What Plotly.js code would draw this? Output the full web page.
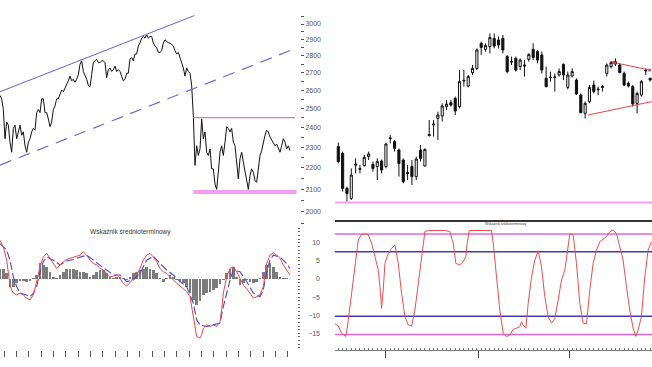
<!DOCTYPE html>
<html><head><meta charset="utf-8">
<script src="https://cdn.plot.ly/plotly-3.0.1.min.js"></script>
<style>html,body{margin:0;padding:0;background:#fff}#c{width:652px;height:367px}</style>
</head><body><div id="c"></div>
<script>
// ---- top-left: index close (log scale) ----
const priceL = [2572,2553,2495,2342,2428,2412,2325,2275,2395,2412,2342,2377,2412,2360,2377,2307,2275,2325,2342,2377,
2395,2386,2478,2495,2478,2553,2553,2478,2478,2445,2404,2428,2495,2514,2553,2553,2582,2602,2592,2611,
2637,2654,2681,2654,2663,2646,2663,2690,2750,2771,2708,2690,2663,2628,2620,2690,2760,2771,2781,2760,
2760,2771,2771,2760,2672,2719,2729,2708,2719,2740,2708,2719,2708,2681,2654,2663,2698,2698,2781,2791,
2771,2812,2812,2861,2880,2910,2920,2910,2930,2910,2920,2920,2880,2861,2851,2822,2822,2832,2880,2900,
2890,2880,2880,2870,2861,2832,2812,2822,2791,2760,2729,2681,2729,2708,2698,2628,2461,2211,2307,2259,
2291,2445,2342,2377,2275,2259,2291,2195,2195,2124,2100,2179,2275,2307,2259,2325,2404,2395,2377,2395,
2325,2307,2211,2148,2243,2275,2227,2179,2148,2100,2164,2195,2179,2140,2132,2195,2259,2283,2325,2360,
2386,2377,2351,2334,2325,2307,2316,2291,2275,2307,2342,2325,2291,2307,2283];
const channelTopDay = [0, 116.6], channelTopVal = [2592, 3055];
const channelLowDay = [0, 178],   channelLowVal = [2213, 2849];
const resistDay = [116, 177], resistVal = [2451, 2451];
const supportDay = [116, 178], supportVal = [2088, 2088];
const priceTicks = [1950,2000,2050,2100,2150,2200,2250,2300,2350,2400,2450,2500,2550,2600,2650,2700,2750,2800,2850,2900,2950,3000,3050];

// ---- bottom-left: medium-term oscillator ----
const oscRedDay = [0,2,4,5,6,7,8,10,12,14,16,18,20,22,24,26,28,30,32,34,36,38,40,42,44,46,48,50,52,54,56,58,60,62,64,66,68,70,72,74,76,78,80,82,84,86,88,90,92,94,96,98,100,102,104,106,108,110,112,114,115,116,117,118,120,121,122,124,126,128,130,132,133,134,136,138,140,142,144,146,148,150,152,154,156,158,160,162,164,166,168,170,172,174];
const oscRedVal = [10.7,8.9,5.2,1.6,-1.7,-3.0,-3.9,-4.4,-3.9,-4.4,-5.3,-5.8,-4.4,-0.7,3.4,6.1,7.1,5.7,4.3,2.9,3.9,4.8,5.4,5.7,6.1,6.3,6.6,7.5,6.6,5.2,4.3,3.9,2.9,2.5,1.6,0.6,0.8,1.1,0.2,-1.2,-1.9,-1.0,0.2,1.1,2.9,5.2,6.6,7.1,6.1,4.8,2.9,2.0,1.6,0.6,-0.3,-1.2,-1.9,-2.6,-3.5,-4.9,-7.6,-11.3,-14.0,-15.9,-16.3,-15.4,-13.6,-12.7,-13.1,-12.7,-13.1,-11.7,-8.5,-3.9,0.6,2.9,3.4,2.0,0.2,-1.7,-2.6,-3.9,-5.3,-4.9,-4.4,-2.1,4.3,6.6,7.2,6.6,5.7,3.9,2.5,1.1];
const oscBlueDay = [0,4,6,8,10,12,16,18,20,22,24,26,28,30,32,36,40,44,48,52,56,60,64,68,72,76,80,84,88,92,96,100,104,108,112,116,118,120,124,128,132,134,136,138,140,144,148,152,156,158,160,162,164,168,172,174];
const oscBlueVal = [9.8,8.0,5.2,0.6,-2.1,-3.9,-4.4,-4.9,-3.9,-2.1,2.0,4.8,6.1,5.7,5.2,3.9,5.0,5.4,6.1,6.6,5.2,3.9,2.5,1.1,1.1,-0.7,-0.3,1.6,5.2,6.3,4.3,2.5,1.1,-0.7,-2.1,-6.7,-11.3,-12.7,-13.1,-12.7,-12.2,-7.6,-3.9,-0.3,2.5,2.0,-0.7,-3.9,-4.9,-3.0,2.0,5.2,6.6,6.1,4.3,2.9];
const histVal = [2.9,2.9,1.6,-2.1,-2.1,-1.2,-0.5,-0.6,-0.7,-0.5,0.2,1.0,4.3,3.9,3.4,2.0,0.6,0.2,1.1,2.0,2.7,2.9,2.9,2.5,2.0,2.0,1.6,0.6,1.1,2.0,2.5,2.5,1.6,0.6,0.2,0.6,0.6,0.2,-0.3,0.6,1.6,2.0,2.5,2.9,3.2,2.9,2.5,1.6,0.2,-0.7,0.2,1.1,0.6,-0.3,-0.7,-1.2,-2.1,-3.9,-5.8,-7.2,-6.2,-4.4,-3.9,-3.5,-3.0,-2.6,-1.4,-0.3,1.6,2.9,3.4,0.6,-1.7,-1.0,-0.3,-0.7,-1.2,-0.7,0.2,2.0,3.9,4.3,3.4,2.0,0.6,0.2,0.2,0.1];
const oscTicks = [-15,-10,-5,0,5,10];

// ---- top-right: daily candles ----
const candleOpen  = [2280,2246,2071,2021,2193,2166,2185,2230,2191,2180,2208,2180,2320,2305,2263,2213,2150,2180,2130,2263,2183,2340,2388,2421,2433,2480,2500,2521,2480,2608,2583,2650,2671,2796,2766,2780,2821,2813,2821,2730,2706,2721,2680,2688,2716,2766,2755,2738,2621,2628,2626,2638,2691,2576,2633,2613,2538,2446,2505,2588,2568,2580,2646,2680,2693,2688,2646,2596,2580,2496,2538,2658,2621];
const candleHigh  = [2300,2255,2080,2171,2221,2188,2238,2255,2205,2221,2216,2300,2338,2313,2271,2221,2188,2213,2230,2288,2271,2413,2413,2455,2496,2513,2513,2530,2663,2663,2638,2688,2771,2805,2796,2846,2846,2830,2838,2738,2730,2730,2721,2713,2746,2796,2763,2755,2680,2655,2646,2671,2696,2655,2671,2621,2546,2505,2588,2610,2580,2588,2696,2708,2721,2696,2655,2605,2588,2555,2613,2671,2626];
const candleLow   = [2196,2055,2005,2013,2146,2146,2180,2213,2155,2113,2146,2171,2296,2255,2130,2096,2113,2088,2113,2205,2180,2330,2330,2313,2405,2463,2480,2438,2471,2580,2576,2638,2663,2738,2755,2746,2771,2771,2746,2646,2688,2655,2663,2630,2705,2713,2696,2646,2576,2605,2555,2630,2613,2566,2626,2538,2446,2421,2496,2546,2538,2555,2630,2671,2683,2646,2583,2576,2480,2446,2530,2638,2605];
const candleClose = [2205,2071,2046,2138,2188,2170,2226,2243,2171,2205,2163,2293,2323,2271,2196,2105,2146,2130,2218,2221,2266,2336,2393,2438,2483,2493,2488,2458,2605,2611,2630,2671,2763,2776,2785,2825,2783,2788,2763,2655,2703,2663,2713,2683,2741,2726,2713,2663,2580,2625,2628,2655,2638,2638,2655,2543,2450,2496,2576,2555,2565,2576,2688,2700,2705,2650,2588,2583,2493,2546,2605,2661,2613];
const candleSupportVal = 2000;
const wedgeTopDay = [64.5, 72.9], wedgeTopVal = [2701, 2663];
const wedgeLowDay = [58.7, 73.4], wedgeLowVal = [2438, 2505];

// ---- bottom-right: short-term oscillator ----
const oscRDay = [0.23,1.0,1.77,2.77,3.31,4.08,4.85,5.62,6.38,7.15,7.92,8.69,9.46,10.23,10.62,11.0,11.38,11.77,12.54,13.31,14.08,14.85,15.62,16.38,17.15,17.92,18.69,19.46,20.23,21.0,21.77,23.69,25.62,26.77,27.54,28.15,29.08,29.85,30.46,30.77,31.23,36.38,36.77,37.54,38.31,39.08,39.85,40.62,41.38,42.15,42.92,43.31,43.69,44.31,44.85,45.62,46.38,47.15,47.92,48.69,49.46,50.23,51.0,51.77,52.54,53.31,54.08,54.46,55.23,56.0,56.77,57.54,58.31,59.08,59.85,60.62,61.38,62.15,62.92,63.69,64.46,65.23,66.0,66.77,67.54,68.31,69.08,69.69,70.23,71.0,71.77,72.54,73.31];
const oscRVal = [-12.4,-13.0,-15.0,-15.9,-11.3,-4.0,4.3,10.8,12.3,12.4,12.2,9.9,6.2,2.5,-2.1,-8.1,-3.0,4.3,7.1,8.5,9.4,4.3,-4.0,-10.4,-12.7,-13.0,-8.6,-1.2,6.2,13.1,13.4,13.4,13.4,13.1,9.9,4.3,3.9,4.8,6.2,9.9,13.4,13.4,9.9,0.6,-8.6,-15.0,-15.9,-15.5,-13.9,-13.6,-13.2,-11.8,-12.7,-13.6,-6.7,0.6,5.2,7.8,3.4,-4.9,-10.4,-12.2,-10.9,-5.8,-0.3,2.5,9.9,12.4,12.2,4.3,-6.7,-12.2,-12.4,-3.0,4.3,8.0,10.3,11.0,11.7,13.1,13.5,12.6,8.9,5.2,-2.1,-8.6,-13.6,-15.9,-14.1,-10.4,0.6,8.0,10.3];
const outerLevels = [12.4, -15.3];
const innerLevels = [7.5, -10.3];
const monthTickDays = [12.0, 33.3, 54.5];

// ---- build ----
const W = 652, H = 367;
const px = v => v / W, py = v => 1 - v / H;
const dayL = priceL.map((v, i) => i);
const histDay = histVal.map((v, k) => 2 * k);
const candleDay = candleOpen.map((v, i) => i + 1);
const fullR = [0.24, 73.44];

const traces = [
  {x: dayL, y: priceL, xaxis:'x', yaxis:'y', mode:'lines', line:{color:'#111', width:1}},
  {x: channelTopDay, y: channelTopVal, xaxis:'x', yaxis:'y', mode:'lines', line:{color:'#6262c8', width:1}},
  {x: channelLowDay, y: channelLowVal, xaxis:'x', yaxis:'y', mode:'lines', line:{color:'#6a6ad2', width:1.2, dash:'12px,8px'}},
  {x: resistDay, y: resistVal, xaxis:'x', yaxis:'y', mode:'lines', line:{color:'#e070e0', width:1.3}},
  {x: supportDay, y: supportVal, xaxis:'x', yaxis:'y', mode:'lines', line:{color:'#f0a0f0', width:4}},

  {x: histDay, y: histVal, xaxis:'x2', yaxis:'y2', type:'bar', width:1.7, marker:{color:'#7c7c7c', line:{width:0}}},
  {x: oscBlueDay, y: oscBlueVal, xaxis:'x2', yaxis:'y2', mode:'lines', line:{color:'#3c4cd0', width:1.1, dash:'8px,3px'}},
  {x: oscRedDay, y: oscRedVal, xaxis:'x2', yaxis:'y2', mode:'lines', line:{color:'#ee4444', width:1}},

  {x: [fullR[0], fullR[1]], y: [candleSupportVal, candleSupportVal], xaxis:'x3', yaxis:'y3', mode:'lines', line:{color:'#f0a0f0', width:2}},
  {type:'candlestick', x: candleDay, open: candleOpen, high: candleHigh, low: candleLow, close: candleClose, xaxis:'x3', yaxis:'y3',
   increasing:{line:{color:'#111', width:1}, fillcolor:'#ffffff'}, decreasing:{line:{color:'#111', width:1}, fillcolor:'#111111'}, whiskerwidth:0},
  {x: wedgeTopDay, y: wedgeTopVal, xaxis:'x3', yaxis:'y3', mode:'lines+markers', line:{color:'#e04848', width:1}, marker:{size:3, color:'#e04848'}},
  {x: wedgeLowDay, y: wedgeLowVal, xaxis:'x3', yaxis:'y3', mode:'lines', line:{color:'#e04848', width:1}},

  {x: fullR, y: [outerLevels[0], outerLevels[0]], xaxis:'x4', yaxis:'y4', mode:'lines', line:{color:'#e066e0', width:1.5}},
  {x: fullR, y: [outerLevels[1], outerLevels[1]], xaxis:'x4', yaxis:'y4', mode:'lines', line:{color:'#e066e0', width:1.5}},
  {x: fullR, y: [innerLevels[0], innerLevels[0]], xaxis:'x4', yaxis:'y4', mode:'lines', line:{color:'#3a3ac0', width:1.5}},
  {x: fullR, y: [innerLevels[1], innerLevels[1]], xaxis:'x4', yaxis:'y4', mode:'lines', line:{color:'#3a3ac0', width:1.5}},
  {x: oscRDay, y: oscRVal, xaxis:'x4', yaxis:'y4', mode:'lines', line:{color:'#e85050', width:1}}
];

const font = {family:'"Liberation Sans", Arial, sans-serif', size:7, color:'#555'};
const hidden = {showgrid:false, zeroline:false, showline:false, ticks:'', showticklabels:false};
const layout = {
  width: W, height: H, margin:{l:0,r:0,t:0,b:0}, showlegend:false,
  paper_bgcolor:'#fff', plot_bgcolor:'rgba(0,0,0,0)', font: font, bargap:0,
  xaxis: Object.assign({}, hidden, {domain:[0, px(298)], range:[0, 178.8], anchor:'y'}),
  yaxis: {domain:[py(228), 1], type:'log', range:[3.28603, 3.4996], anchor:'free', position:px(300), side:'right',
          showgrid:false, zeroline:false, showline:false, tickmode:'array', tickvals: priceTicks,
          ticktext: priceTicks.map(v => v % 100 === 0 ? String(v) : ''), ticks:'outside', ticklen:3, tickwidth:1, tickcolor:'#555', tickfont:font},
  xaxis2: Object.assign({}, hidden, {domain:[0, px(298)], range:[0, 178.8], anchor:'y2', ticks:'outside', ticklen:6, tickwidth:1, tickcolor:'#555', tick0:2.4, dtick:7.4}),
  yaxis2: Object.assign({}, hidden, {domain:[py(350), py(228)], range:[-19.61, 14.09], anchor:'free', position:px(297), side:'right',
          ticks:'outside', ticklen:2, tickcolor:'#666', tick0:0, dtick:1}),
  xaxis3: Object.assign({}, hidden, {domain:[px(335), 1], range: fullR, anchor:'y3', showline:true, linecolor:'#333', linewidth:1.5, rangeslider:{visible:false}}),
  yaxis3: Object.assign({}, hidden, {domain:[py(220), 1], range:[1913, 3013], anchor:'x3'}),
  xaxis4: Object.assign({}, hidden, {domain:[px(335), 1], range: fullR, anchor:'y4', showline:true, linecolor:'#777', linewidth:1,
          tickmode:'array', tickvals: monthTickDays, ticks:'outside', ticklen:7, tickcolor:'#444',
          minor:{tickmode:'linear', tick0:0, dtick:1, ticks:'inside', ticklen:2, tickcolor:'#777'}}),
  yaxis4: {domain:[py(350), py(220)], range:[-19.61, 16.30], anchor:'free', position:px(320), side:'left',
          showgrid:false, zeroline:false, showline:false, ticks:'', tickmode:'array', tickvals: oscTicks, tickfont:font},
  annotations: [
    {text:'Wskaźnik średnioterminowy', xref:'paper', yref:'paper', x:px(130), y:py(232), xanchor:'center', yanchor:'middle', showarrow:false, font:{family:font.family, size:6.5, color:'#333'}},
    {text:'Wskaźnik krótkoterminowy', xref:'paper', yref:'paper', x:px(506), y:py(223.5), xanchor:'center', yanchor:'middle', showarrow:false, font:{family:font.family, size:3.5, color:'#333'}}
  ]
};
Plotly.newPlot('c', traces, layout, {staticPlot:true});
</script></body></html>
